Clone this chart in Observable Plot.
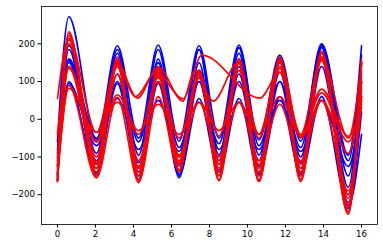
<!DOCTYPE html>
<html><head><meta charset="utf-8">
<script src="https://cdn.jsdelivr.net/npm/d3@7"></script>
<script src="https://cdn.jsdelivr.net/npm/@observablehq/plot@0.6"></script>
<style>body{margin:0;background:#fff}</style>
</head><body><div id="chart"></div>
<script>
// shared sample positions (peaks / troughs) for main curves
const xs = [0, 0.6, 2.05, 3.15, 4.27, 5.3, 6.4, 7.45, 8.5, 9.55, 10.6, 11.7, 12.8, 13.9, 15.3, 16];

const blue1 = [-60, 272, -55, 195, -50, 197, -58, 195, -50, 197, -55, 170, -58, 200, -95, 195];
const blue2 = [-90, 195, -90, 185, -95, 185, -100, 185, -95, 190, -95, 160, -100, 195, -150, 130];
const blue3 = [-165, 185, -145, 175, -160, 160, -155, 150, -150, 175, -150, 150, -150, 190, -238, 100];
const blue4 = [-125, 160, -120, 150, -130, 150, -135, 130, -120, 140, -125, 125, -130, 175, -200, 60];
const blue5 = [-145, 155, -130, 120, -140, 120, -145, 100, -135, 120, -140, 100, -140, 140, -220, 20];
const blue6 = [-100, 150, -110, 100, -115, 100, -120, 185, -110, 100, -110, 160, -115, 190, -180, 150];
const blue7 = [-150, 100, -140, 95, -150, 95, -150, 55, -140, 55, -145, 60, -145, 60, -230, -40];
const blue8 = [-130, 95, -70, 55, -80, 50, -85, 130, -80, 45, -80, 50, -85, 50, -125, 50];
const blue9 = [-80, 160, -50, 140, -60, 150, -75, 100, -65, 190, -70, 100, -75, 195, -110, 170];

const red1 = [-165, 232, -155, 165, -168, 140, -140, 130, -163, 160, -165, 165, -165, 180, -252, 160];
const red2 = [-160, 228, -150, 160, -160, 135, -135, 125, -150, 155, -160, 160, -160, 175, -245, 145];
const red3 = [-155, 222, -140, 155, -150, 130, -125, 120, -140, 150, -150, 155, -150, 165, -235, 120];
const red4 = [-145, 215, -130, 150, -140, 120, -115, 110, -130, 130, -140, 150, -140, 160, -225, 100];
const red5 = [-125, 210, -115, 145, -125, 115, -110, 120, -120, 150, -130, 140, -130, 155, -210, 80];
const red6 = [-110, 200, -100, 140, -110, 100, -100, 110, -110, 160, -120, 135, -120, 175, -200, 60];
const red7 = [-165, 140, -120, 120, -130, 130, -95, 45, -100, 45, -110, 40, -110, 50, -190, 40];
const red8 = [-140, 135, -60, 65, -30, 40, -40, 45, -30, 45, -40, 60, -45, 80, -45, 30];
const red9 = [-160, 90, -155, 58, -165, 60, -135, 125, -160, 150, -165, 155, -160, 165, -250, 150];
const red10 = [-150, 82, -35, 45, -40, 110, -50, 120, -45, 130, -50, 150, -50, 50, -90, 100];

// the two low-amplitude wavy red curves
const wavy1X = [0, 0.6, 2.05, 3.15, 4.2, 5.3, 6.6, 7.2, 8.2, 9.5, 10.6, 11.7, 12.8, 13.9, 15.3, 16];
const wavy1Y = [55, 215, -35, 150, 56, 138, 48, 128, 48, 150, -40, 150, -40, 165, -50, 150];
const wavy2X = [0, 0.6, 2.05, 3.15, 4.1, 5.2, 6.6, 7.6, 10.65, 11.7, 12.8, 13.9, 15.3, 16];
const wavy2Y = [-40, 140, -60, 140, 60, 125, 54, 170, 56, 125, -45, 70, -60, 50];

const xTicks = [0, 2, 4, 6, 8, 10, 12, 14, 16];
const yTicks = [-200, -100, 0, 100, 200];

const blueSeries = [blue1, blue2, blue3, blue4, blue5, blue6, blue7, blue8, blue9];
const redSeries = [red1, red2, red3, red4, red5, red6, red7, red8, red9, red10];

const blueRows = [];
blueSeries.forEach((ys, i) => ys.forEach((y, j) => blueRows.push({x: xs[j], y, id: "b" + i})));
const redRows = [];
redSeries.forEach((ys, i) => ys.forEach((y, j) => redRows.push({x: xs[j], y, id: "r" + i})));
wavy1X.forEach((x, j) => redRows.push({x, y: wavy1Y[j], id: "w1"}));
wavy2X.forEach((x, j) => redRows.push({x, y: wavy2Y[j], id: "w2"}));

const chart = Plot.plot({
  width: 383, height: 248,
  marginLeft: 41, marginRight: 6, marginTop: 6, marginBottom: 24,
  style: {fontFamily: "DejaVu Sans", fontSize: "8.6px", color: "black", background: "white", overflow: "visible"},
  x: {domain: [-0.84, 16.84], label: null},
  y: {domain: [-279, 299], label: null},
  marks: [
    Plot.line(blueRows, {x: "x", y: "y", z: "id", stroke: "#0000ff", strokeWidth: 1.6, curve: "monotone-x"}),
    Plot.line(redRows, {x: "x", y: "y", z: "id", stroke: "#ff0000", strokeWidth: 1.6, curve: "monotone-x"}),
    Plot.frame({stroke: "black", strokeWidth: 0.8}),
    Plot.axisX({ticks: xTicks, tickSize: 3.5, tickPadding: 3, label: null, fontSize: 8.6}),
    Plot.axisY({ticks: yTicks, tickSize: 3.5, tickPadding: 3, label: null, fontSize: 8.6})
  ]
});
document.getElementById("chart").appendChild(chart);
</script>
</body></html>
